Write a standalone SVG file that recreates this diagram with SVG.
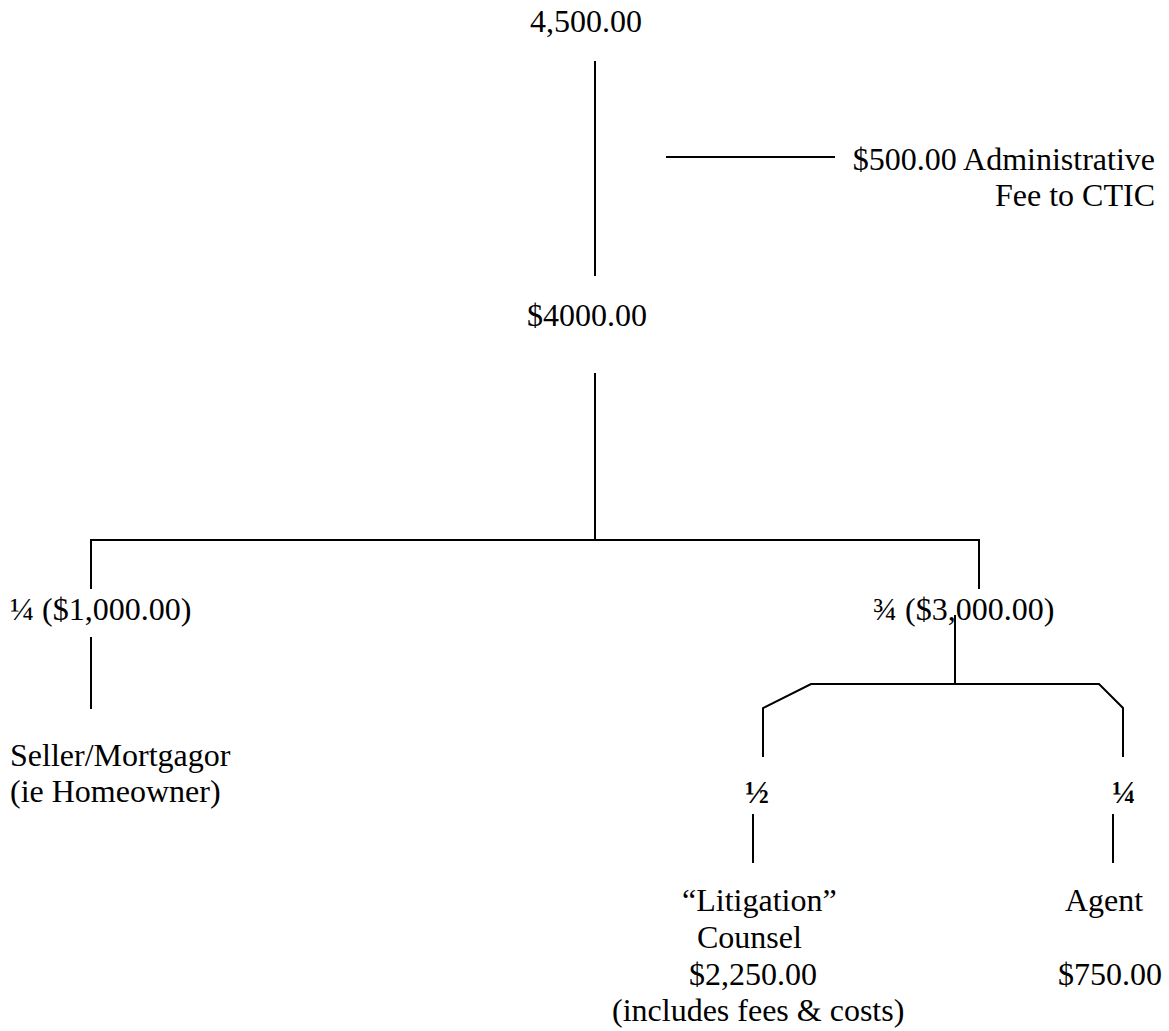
<svg xmlns="http://www.w3.org/2000/svg" width="1169" height="1031" viewBox="0 0 1169 1031">
<style>
text{font-family:"Liberation Serif","Times New Roman",serif;font-size:32px;fill:#000}
.c{text-anchor:middle}
.r{text-anchor:end}
.f{font-weight:bold}
.ln{stroke:#000;stroke-width:2;fill:none}
</style>
<rect width="1169" height="1031" fill="#fff"/>
<g id="connectors">
<line class="ln" x1="595" y1="61" x2="595" y2="276"/>
<line class="ln" x1="666" y1="157" x2="835" y2="157"/>
<line class="ln" x1="595" y1="373" x2="595" y2="540"/>
<polyline class="ln" points="91,589 91,540 979,540 979,589"/>
<line class="ln" x1="91" y1="637" x2="91" y2="709"/>
<line class="ln" x1="955" y1="615" x2="955" y2="684"/>
<polyline class="ln" points="763,757 763,708 811,684 1099,684 1123,708 1123,757"/>
<line class="ln" x1="753" y1="814" x2="753" y2="863"/>
<line class="ln" x1="1113" y1="814" x2="1113" y2="863"/>
</g>
<g id="n_total"><text class="c" x="586" y="32">4,500.00</text></g>
<g id="n_fee"><text class="r" x="1155" y="170">$500.00 Administrative</text><text class="r" x="1155" y="206">Fee to CTIC</text></g>
<g id="n_4000"><text class="c" x="587" y="326">$4000.00</text></g>
<g id="n_quarter"><text x="10" y="620">¼ ($1,000.00)</text></g>
<g id="n_threequarter"><text x="873" y="620">¾ ($3,000.00)</text></g>
<g id="n_seller"><text x="10" y="766">Seller/Mortgagor</text><text x="10" y="802">(ie Homeowner)</text></g>
<g id="n_half"><text class="c f" x="757" y="803">½</text></g>
<g id="n_agentfrac"><text class="c f" x="1124" y="803">¼</text></g>
<g id="n_counsel">
<text x="682" y="911">“Litigation”</text>
<text x="697" y="948">Counsel</text>
<text x="689" y="985">$2,250.00</text>
<text x="612" y="1021">(includes fees &amp; costs)</text>
</g>
<g id="n_agent"><text x="1065" y="911">Agent</text><text x="1058" y="985">$750.00</text></g>
</svg>
